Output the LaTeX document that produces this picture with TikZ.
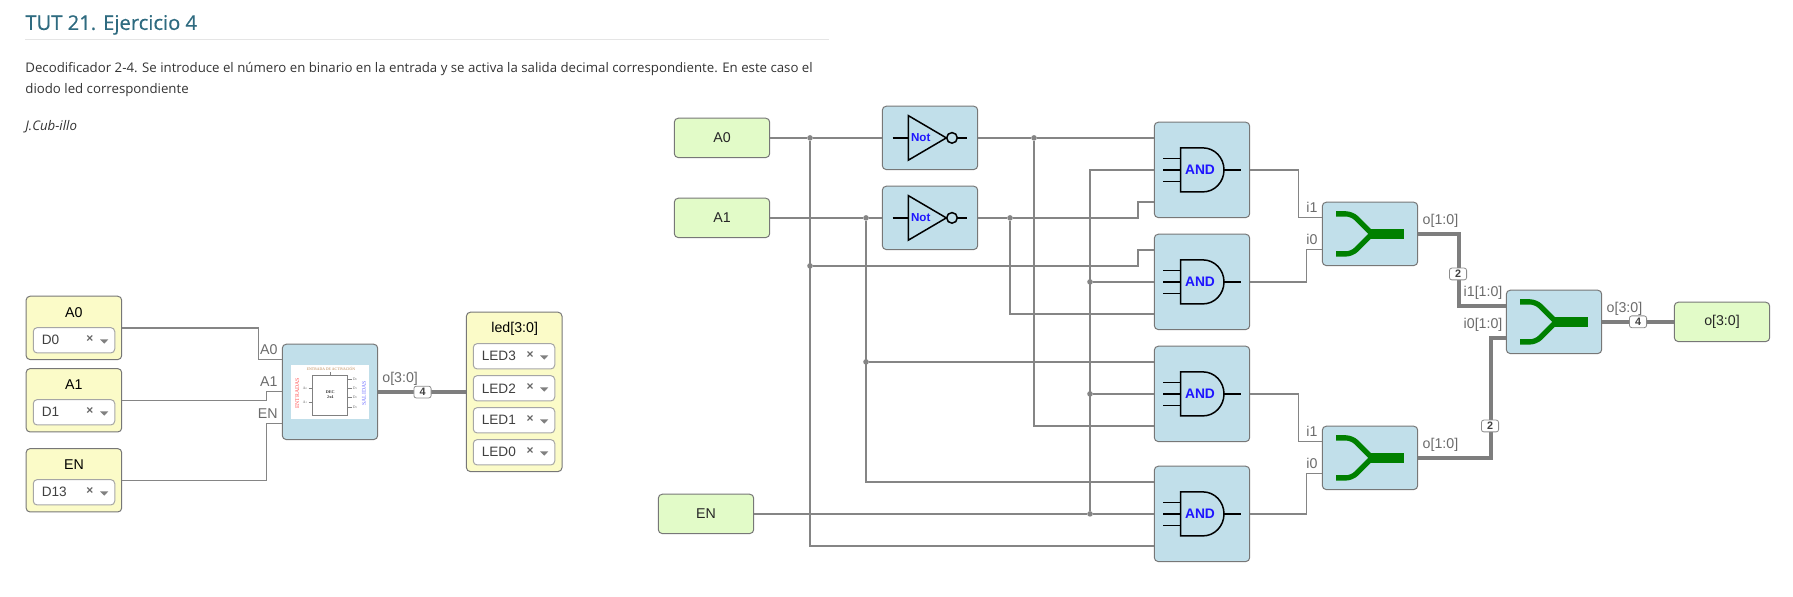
\documentclass[tikz,border=0pt]{standalone}
\usepackage{fontspec}
\setmainfont{Liberation Sans}
\newfontfamily\pagefont{Open Sans}
\newfontfamily\titlefont[FakeBold=0.5]{Open Sans}
\newfontfamily\imgfont{Liberation Serif}
\definecolor{blockfill}{HTML}{C1DFEA}
\definecolor{inputfill}{HTML}{E2FBC8}
\definecolor{pinfill}{HTML}{FBFBC8}
\definecolor{edgegray}{HTML}{777777}
\definecolor{wiregray}{HTML}{858585}
\definecolor{titleteal}{HTML}{2F6B80}
\definecolor{gateblue}{HTML}{1E14FF}
\definecolor{mergegreen}{HTML}{008000}
\tikzset{
    box/.style={draw=edgegray, line width=.5pt, rounded corners=2pt, inner sep=0pt},
    block/.style={box, fill=blockfill, minimum width=47.7pt},
    gateblock/.style={block, minimum height=47.7pt},
    midblock/.style={block, minimum height=31.7pt},
    inbox/.style={box, fill=inputfill, minimum width=47.7pt, minimum height=19.7pt, text=black!85},
    pinbox/.style={box, fill=pinfill, minimum width=47.8pt, minimum height=31.7pt, text=black!85},
    selectbox/.style={draw=black!35, line width=.5pt, rounded corners=2pt, fill=white, inner ysep=0pt, inner xsep=4.3pt,
        text width=32.15pt, align=left, minimum height=12.7pt, text=black!75, font=\fontsize{6.8}{8}\selectfont},
    wire/.style={draw=wiregray, line width=.75pt},
    bus/.style={draw=wiregray!95!black, line width=2pt},
    dot/.style={circle, fill=wiregray, inner sep=0pt, minimum size=2.8pt},
    pinlabel/.style={text=black!58, inner sep=0pt},
    badge/.style={draw=black!45, line width=.4pt, rounded corners=1.2pt, fill=white, inner sep=0pt, minimum width=8.6pt,
        minimum height=5.9pt, font=\fontsize{5.4}{6}\selectfont\bfseries, text=black!75},
    gateline/.style={draw=black, line width=.75pt},
    imgline/.style={draw=black!50, line width=.2pt},
    imgtext/.style={inner sep=0pt, text=black!60, font=\imgfont\fontsize{1.9}{2.2}\selectfont},
    every node/.append style={font=\fontsize{7.1}{8.4}\selectfont}
}
\newcommand{\imgsub}[2]{#1\raisebox{-.3pt}{\fontsize{1.3}{1.5}\selectfont #2}}
\newcommand{\selectmarks}[1]{
    \node[inner sep=0pt, text=black!60, font=\fontsize{6}{7}\selectfont\bfseries] at ([shift={(16,-1)}]#1.center)(#1x){×};
    \fill[black!50] ([shift={(26,-1)}]#1.center) -- ++(8.4,0) -- ++(-4.2,4.4) -- cycle;
}
\newcommand{\andicon}[1]{
    \begin{scope}[shift={(#1.center)}]
        \draw[gateline](-21.3, -22) -- (1, -22) arc[start angle=-90, end angle=90, x radius=21, y radius=22] -- (-21.3, 22) -- cycle;
        \draw[gateline](-38.7, -11.5) to (-21.3, -11.5);
        \draw[gateline](-38.7, 0) to (-21.3, 0);
        \draw[gateline](-38.7, 11.5) to (-21.3, 11.5);
        \draw[gateline](22, 0) to (38.7, 0);
        \node[inner sep=0pt, text=gateblue, font=\fontsize{6.9}{8}\selectfont\bfseries] at (-2, 0)(#1txt){AND};
    \end{scope}
}
\newcommand{\noticon}[1]{
    \begin{scope}[shift={(#1.center)}]
        \draw[gateline](-21.7, -22.3) -- (16.3, 0) -- (-21.7, 22.3) -- cycle;
        \draw[gateline](22, 0) circle[radius=5.3];
        \draw[gateline](-37.3, 0) to (-21.7, 0);
        \draw[gateline](27.3, 0) to (37.3, 0);
        \node[inner sep=0pt, text=gateblue, font=\fontsize{5.8}{6.5}\selectfont\bfseries] at (-9.3, 0)(#1txt){Not};
    \end{scope}
}
\newcommand{\mergeicon}[1]{
    \begin{scope}[shift={(#1.center)}]
        \draw[mergegreen, line width=2.65pt, rounded corners=3pt](-34, -20) -- (-18, -20) -- (2, 0);
        \draw[mergegreen, line width=2.65pt, rounded corners=3pt](-34, 20) -- (-18, 20) -- (2, 0);
        \fill[mergegreen](0, -5.3) rectangle (33.7, 5.3);
    \end{scope}
}
\begin{document}
\begin{tikzpicture}[x=.5pt, y=-.5pt]
    \useasboundingbox (0, -.3) rectangle (1793, 596.7);

    % page heading
    \node[anchor=base west, inner sep=0pt, text=titleteal, font=\titlefont\fontsize{10.1}{12}\selectfont] at (25, 29.6)(title){TUT 21. Ejercicio 4};
    \draw[black!10, line width=.5pt](25, 39.5) to (829, 39.5);
    \node[anchor=base west, inner sep=0pt, text=black!80, font=\pagefont\fontsize{6.62}{8}\selectfont] at (25, 72.5)(line1){Decodificador 2-4. Se introduce el número en binario en la entrada y se activa la salida decimal correspondiente. En este caso el};
    \node[anchor=base west, inner sep=0pt, text=black!80, font=\pagefont\fontsize{6.62}{8}\selectfont] at (25, 93.2)(line2){diodo led correspondiente};
    \node[anchor=base west, inner sep=0pt, text=black!80, font=\pagefont\itshape\fontsize{6.62}{8}\selectfont] at (25, 130.5)(author){J.Cub-illo};

    % left: pins and decoder
    \node[pinbox] at (73.9, 327.6)(pa0){};
    \node[pinbox] at (73.9, 400)(pa1){};
    \node[pinbox] at (73.9, 480)(pen){};
    \node at (73.9, 312.3)(pa0txt){A0};
    \node at (73.9, 384.3)(pa1txt){A1};
    \node at (73.9, 464)(pentxt){EN};
    \node[selectbox] at (74, 340)(d0){D0};
    \node[selectbox] at (74, 412)(d1){D1};
    \node[selectbox] at (74, 492)(d13){D13};
    \selectmarks{d0}
    \selectmarks{d1}
    \selectmarks{d13}

    \node[gateblock] at (330, 391.6)(dec){};
    \coordinate (deca) at (282.4, 359.3);
    \coordinate (decb) at (282.4, 391.3);
    \coordinate (decc) at (282.4, 423.3);

    \node[fill=white, inner sep=0pt, minimum width=39pt, minimum height=27pt] at (330, 392)(decimg){};
    \draw[black!50, line width=.3pt](312.3, 375) rectangle (347.7, 415);
    \draw[imgline](330, 371.5) to (330, 375);
    \draw[imgline](308.5, 388) to (312.3, 388);
    \draw[imgline](308.5, 402) to (312.3, 402);
    \draw[imgline](347.7, 379) to (351.5, 379);
    \draw[imgline](347.7, 388) to (351.5, 388);
    \draw[imgline](347.7, 397) to (351.5, 397);
    \draw[imgline](347.7, 407) to (351.5, 407);
    \node[imgtext, text=orange!60!black!70] at (331, 368.8)(imgtop){ENTRADA DE ACTIVACIÓN};
    \node[imgtext, text=red!65, rotate=90, font=\imgfont\fontsize{2.9}{3.2}\selectfont] at (297.3, 393)(imgin){ENTRADAS};
    \node[imgtext, text=blue!55, rotate=90, font=\imgfont\fontsize{2.9}{3.2}\selectfont] at (364, 393)(imgout){SALIDAS};
    \node[imgtext, text=black!80, font=\imgfont\bfseries\fontsize{2.1}{2.6}\selectfont, align=center] at (330.3, 394)(imgdec){DEC\\2x4};
    \node[imgtext] at (305, 388)(imga0){\imgsub{A}{0}};
    \node[imgtext] at (305, 402)(imga1){\imgsub{A}{1}};
    \node[imgtext] at (355, 379)(imgd0){\imgsub{D}{0}};
    \node[imgtext] at (355, 388)(imgd1){\imgsub{D}{1}};
    \node[imgtext] at (355, 397)(imgd2){\imgsub{D}{2}};
    \node[imgtext] at (355, 407)(imgd3){\imgsub{D}{3}};

    \node[pinbox, minimum height=79.7pt] at (514.2, 391.6)(leds){};
    \node at (514.7, 329)(ledstxt){led[3:0]};
    \node[selectbox] at (514, 356)(led3){LED3};
    \node[selectbox] at (514, 388)(led2){LED2};
    \node[selectbox] at (514, 420)(led1){LED1};
    \node[selectbox] at (514, 452)(led0){LED0};
    \selectmarks{led3}
    \selectmarks{led2}
    \selectmarks{led1}
    \selectmarks{led0}

    \draw[wire](pa0.east) -- ++(136.3, 0) |- (deca);
    \draw[wire](pa1.east) -- ++(144.3, 0) |- (decb);
    \draw[wire](pen.east) -- ++(144.3, 0) |- (decc);
    \draw[bus](dec.east) -- (leds.west);
    \node[badge] at (422.5, 391.8)(deccount){4};

    \node[pinlabel, anchor=east] at (278, 349.3)(deca0){A0};
    \node[pinlabel, anchor=east] at (278, 381)(deca1){A1};
    \node[pinlabel, anchor=east] at (278, 413.3)(decen){EN};
    \node[pinlabel, anchor=west] at (382, 378.3)(deco){o[3:0]};

    % right: blocks
    \node[inbox] at (722, 137.6)(ina0){A0};
    \node[inbox] at (722, 217.6)(ina1){A1};
    \node[inbox] at (706, 513.6)(inen){EN};
    \node[midblock] at (930, 137.6)(not1){};
    \node[midblock] at (930, 217.6)(not2){};
    \node[gateblock] at (1202, 169.6)(and1){};
    \node[gateblock] at (1202, 281.6)(and2){};
    \node[gateblock] at (1202, 393.6)(and3){};
    \node[gateblock] at (1202, 513.6)(and4){};
    \node[midblock] at (1370, 233.6)(m1){};
    \node[midblock] at (1370, 457.6)(m2){};
    \node[midblock] at (1554, 321.6)(m3){};
    \node[inbox] at (1722, 321.6)(outo){o[3:0]};

    \noticon{not1}
    \noticon{not2}
    \andicon{and1}
    \andicon{and2}
    \andicon{and3}
    \andicon{and4}
    \mergeicon{m1}
    \mergeicon{m2}
    \mergeicon{m3}

    \coordinate (and1a) at (1154.3, 137.6);
    \coordinate (and1b) at (1154.3, 169.6);
    \coordinate (and1c) at (1154.3, 201.6);
    \coordinate (and2a) at (1154.3, 249.6);
    \coordinate (and2c) at (1154.3, 313.6);
    \coordinate (and3a) at (1154.3, 361.6);
    \coordinate (and3c) at (1154.3, 425.6);
    \coordinate (and4a) at (1154.3, 481.6);
    \coordinate (and4c) at (1154.3, 545.6);
    \coordinate (kink1) at (1138, 217.6);
    \coordinate (kink2) at (1138, 265.6);
    \coordinate (m1a) at (1322.3, 217.4);
    \coordinate (m1b) at (1322.3, 249.4);
    \coordinate (m2a) at (1322.3, 441.4);
    \coordinate (m2b) at (1322.3, 473.4);
    \coordinate (m3a) at (1506.3, 305.4);
    \coordinate (m3b) at (1506.3, 337.4);

    % junctions
    \node[dot] at (810, 137.6)(ja0){};
    \node[dot] at (810, 265.6)(jb0){};
    \node[dot] at (866, 217.6)(ja1){};
    \node[dot] at (866, 361.6)(jb1){};
    \node[dot] at (1034, 137.6)(jn1){};
    \node[dot] at (1010, 217.6)(jn2){};
    \node[dot] at (1090, 513.6)(jen){};
    \node[dot] at (1090, 393.6)(jen3){};
    \node[dot] at (1090, 281.6)(jen2){};

    \draw[wire](ina0.east) -- (ja0);
    \draw[wire](ja0) -- (not1.west);
    \draw[wire](ja0) |- (and4c);
    \draw[wire](jb0) -- (kink2) |- (and2a);
    \draw[wire](ina1.east) -- (ja1);
    \draw[wire](ja1) -- (not2.west);
    \draw[wire](ja1) |- (and4a);
    \draw[wire](jb1) -- (and3a);
    \draw[wire](not1.east) -- (jn1);
    \draw[wire](jn1) -- (and1a);
    \draw[wire](jn1) |- (and3c);
    \draw[wire](not2.east) -- (jn2);
    \draw[wire](jn2) -- (kink1) |- (and1c);
    \draw[wire](jn2) |- (and2c);
    \draw[wire](inen.east) -- (jen);
    \draw[wire](jen) -- (and4.west);
    \draw[wire](jen) |- (and1b);
    \draw[wire](jen3) -- (and3.west);
    \draw[wire](jen2) -- (and2.west);

    \draw[wire](and1.east) -- ++(48.3, 0) |- (m1a);
    \draw[wire](and2.east) -- ++(56.3, 0) |- (m1b);
    \draw[wire](and3.east) -- ++(48.3, 0) |- (m2a);
    \draw[wire](and4.east) -- ++(56.3, 0) |- (m2b);
    \draw[bus](m1.east) -- ++(40.6, 0) |- (m3a);
    \draw[bus](m2.east) -- ++(72.3, 0) |- (m3b);
    \draw[bus](m3.east) -- (outo.west);

    \node[badge] at (1458, 273.7)(count1){2};
    \node[badge] at (1490, 425.7)(count2){2};
    \node[badge] at (1638, 321.5)(count3){4};

    \node[pinlabel] at (1312, 207.3)(m1i1){i1};
    \node[pinlabel] at (1312, 239)(m1i0){i0};
    \node[pinlabel] at (1312, 431)(m2i1){i1};
    \node[pinlabel] at (1312, 463)(m2i0){i0};
    \node[pinlabel, anchor=west] at (1422.3, 220.7)(m1o){o[1:0]};
    \node[pinlabel, anchor=west] at (1422.3, 445)(m2o){o[1:0]};
    \node[pinlabel, anchor=west] at (1463.3, 292.3)(m3i1){i1[1:0]};
    \node[pinlabel, anchor=west] at (1463.3, 324.3)(m3i0){i0[1:0]};
    \node[pinlabel, anchor=west] at (1606.3, 308.7)(m3o){o[3:0]};
\end{tikzpicture}
\end{document}
